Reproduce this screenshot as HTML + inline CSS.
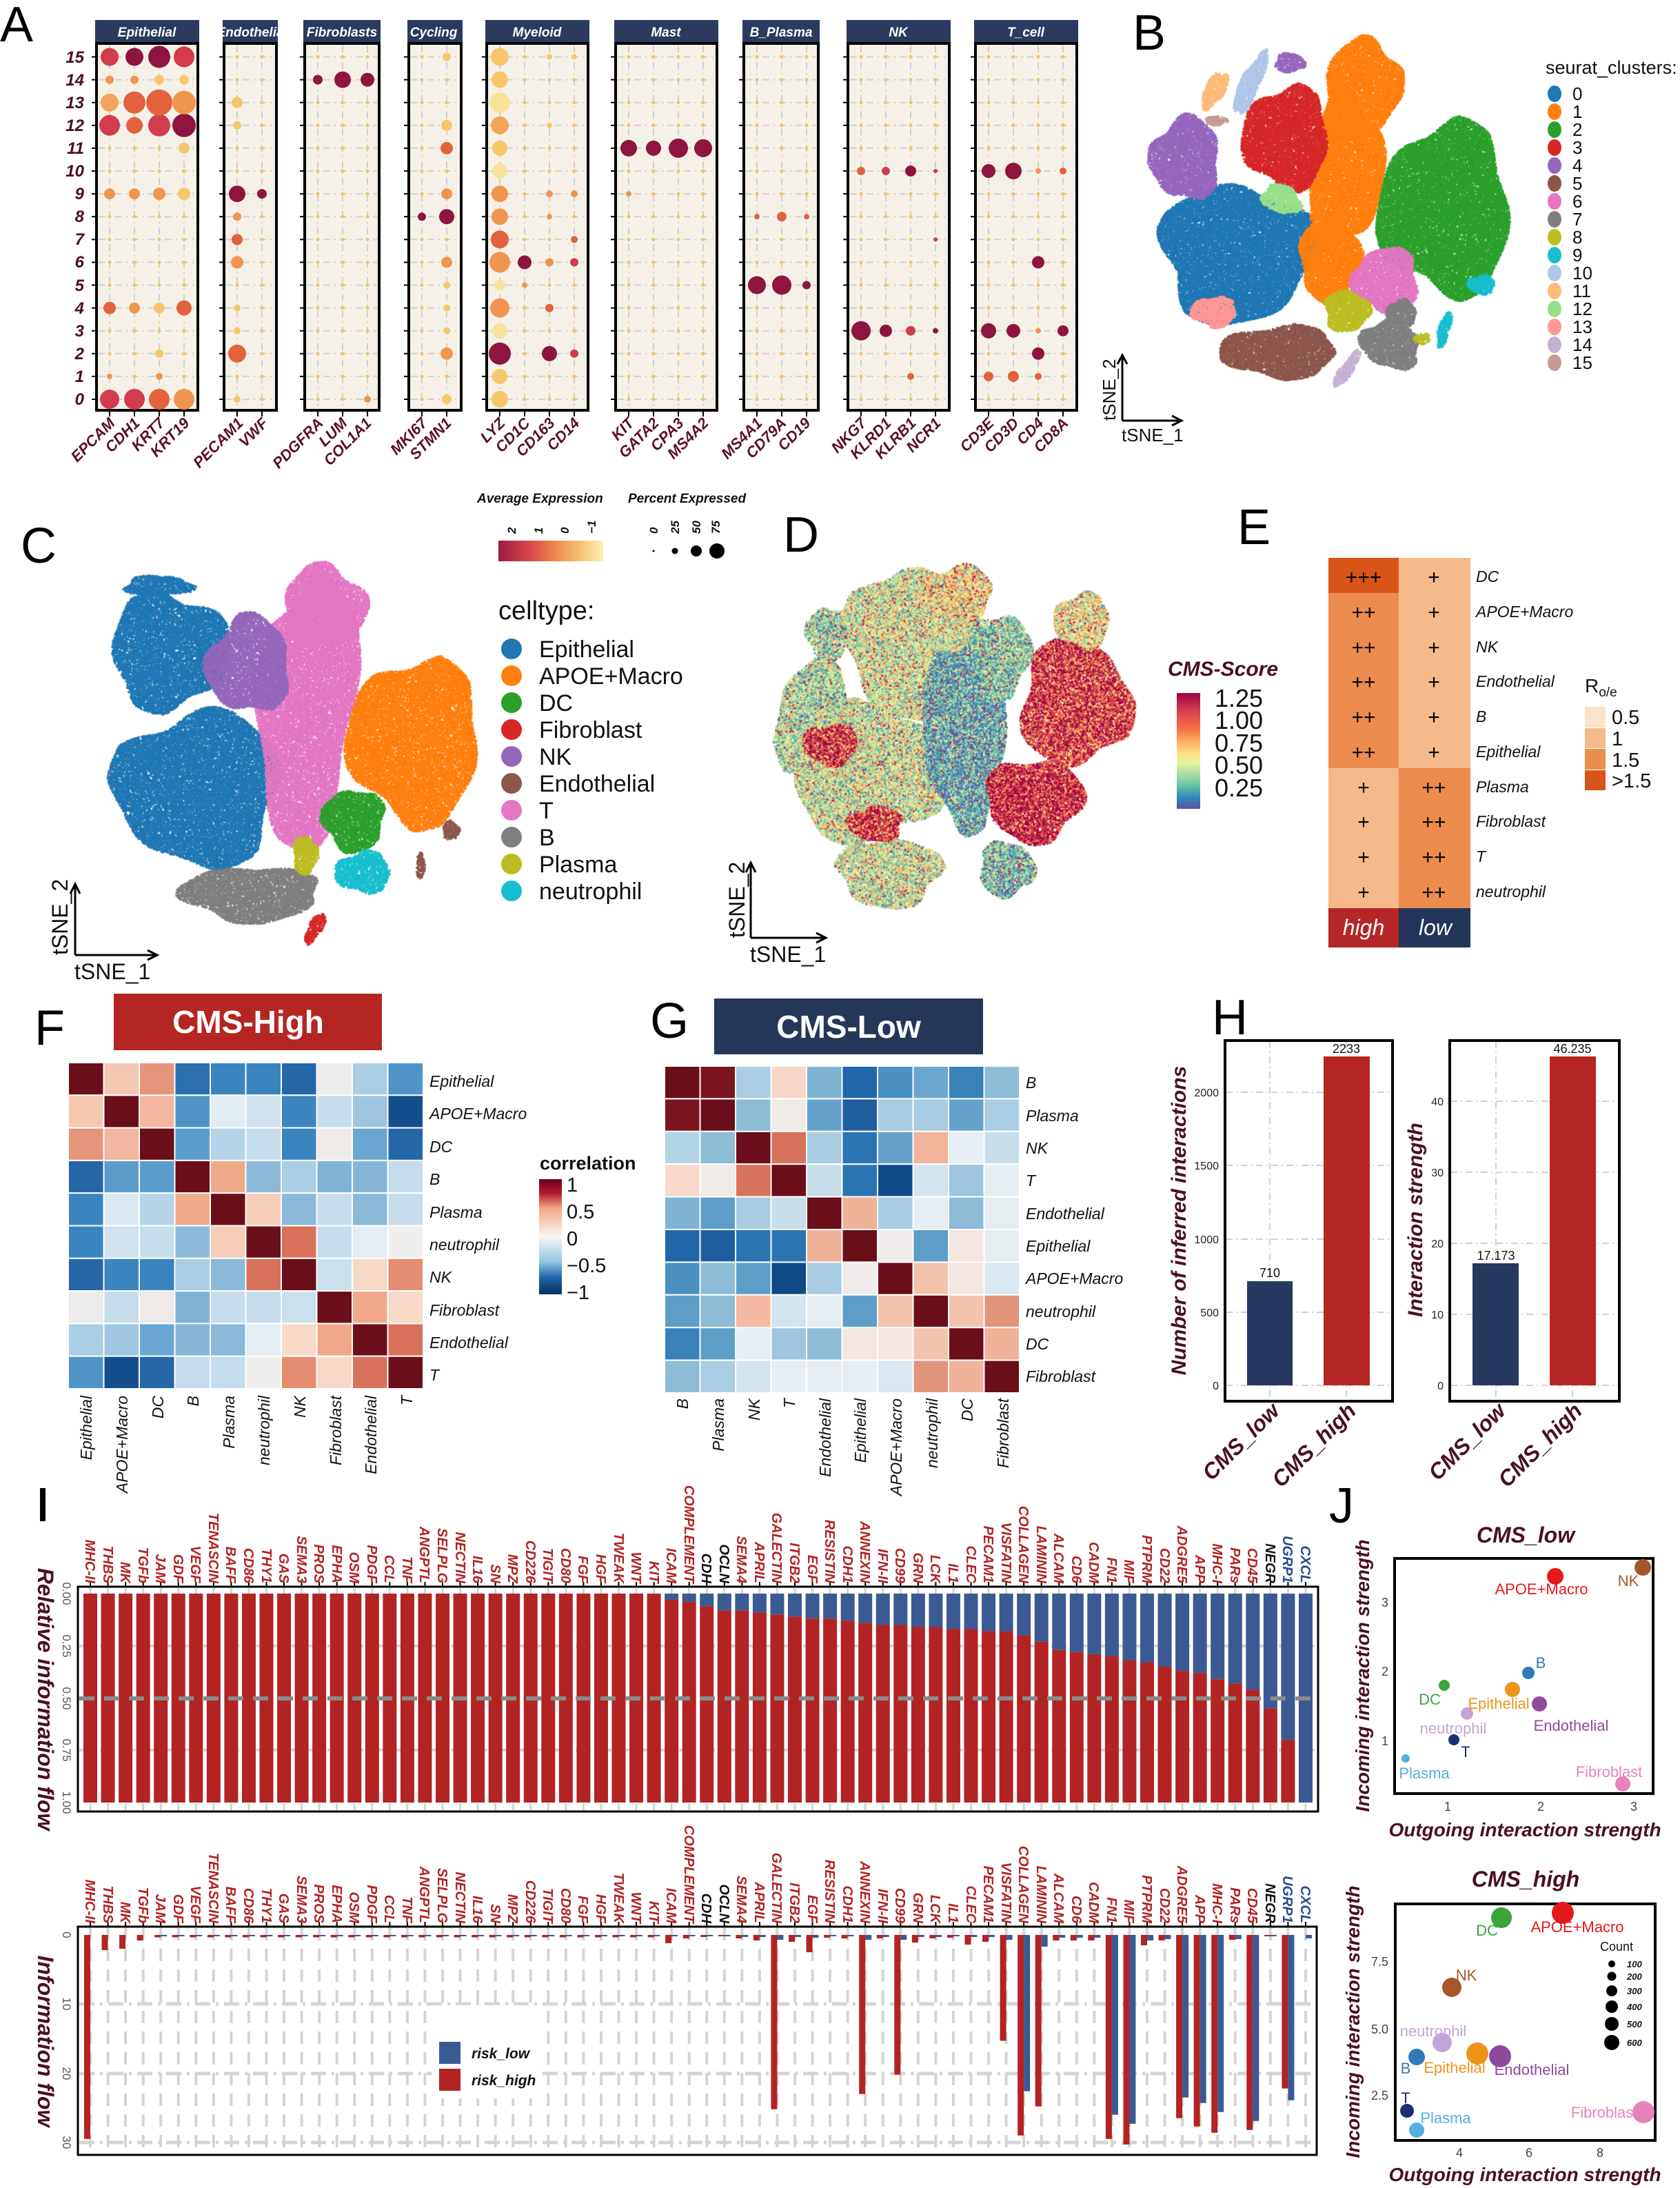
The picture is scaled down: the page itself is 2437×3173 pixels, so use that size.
<!DOCTYPE html>
<html><head><meta charset="utf-8">
<style>
html,body{margin:0;padding:0;background:#fff}
body{width:2437px;height:3173px;position:relative;overflow:hidden}
#cv{position:absolute;left:0;top:0}
#sv{position:absolute;left:0;top:0}
text{font-family:"Liberation Sans",sans-serif}
.bi{font-weight:bold;font-style:italic}
.it{font-style:italic}
.mar{fill:#4a1020}
.rl{font:bold italic 24px "Liberation Sans",sans-serif;fill:#4a1020;text-anchor:end}
.gl{font:bold italic 22px "Liberation Sans",sans-serif;fill:#5a1025;text-anchor:end}
.hd{font:bold italic 19px "Liberation Sans",sans-serif;fill:#fff;text-anchor:middle}
.lt{font:bold italic 20px "Liberation Sans",sans-serif;fill:#b22323;text-anchor:end}
.lk{fill:#111}
.lb{fill:#2b4a8a}
.hl{font:italic 23px "Liberation Sans",sans-serif;fill:#111}
.hb{font:italic 23px "Liberation Sans",sans-serif;fill:#111;text-anchor:end}
.tk{font:16px "Liberation Sans",sans-serif;fill:#222;text-anchor:end}
.jl{font:22px "Liberation Sans",sans-serif;text-anchor:middle}
.big{font:72px "Liberation Sans",sans-serif;fill:#000}
</style></head><body>
<canvas id="cv" width="2437" height="3173"></canvas>
<svg id="sv" xmlns="http://www.w3.org/2000/svg" width="2437" height="3173" viewBox="0 0 2437 3173">
<!-- Panel letters -->
<text class="big" x="0" y="60">A</text>
<text class="big" x="1643" y="72">B</text>
<text class="big" x="30" y="816">C</text>
<text class="big" x="1136" y="800">D</text>
<text class="big" x="1795" y="789">E</text>
<text class="big" x="50" y="1515">F</text>
<text class="big" x="943" y="1505">G</text>
<text class="big" x="1758" y="1500">H</text>
<rect x="58" y="2158" width="8" height="48" fill="#000"/>
<text class="big" x="1928" y="2208">J</text>

<!-- ============ Panel A ============ -->
<g id="gA"></g>
<g>
<text class="hd" x="213" y="53">Epithelial</text>
<text class="hd" x="363" y="53">Endothelia</text>
<text class="hd" x="496" y="53">Fibroblasts</text>
<text class="hd" x="629" y="53">Cycling</text>
<text class="hd" x="779" y="53">Myeloid</text>
<text class="hd" x="966" y="53">Mast</text>
<text class="hd" x="1133" y="53">B_Plasma</text>
<text class="hd" x="1303" y="53">NK</text>
<text class="hd" x="1488" y="53">T_cell</text>
</g>
<g>
<text class="rl" x="122" y="587">0</text>
<text class="rl" x="122" y="554">1</text>
<text class="rl" x="122" y="521">2</text>
<text class="rl" x="122" y="488">3</text>
<text class="rl" x="122" y="455">4</text>
<text class="rl" x="122" y="422">5</text>
<text class="rl" x="122" y="388">6</text>
<text class="rl" x="122" y="355">7</text>
<text class="rl" x="122" y="322">8</text>
<text class="rl" x="122" y="289">9</text>
<text class="rl" x="122" y="256">10</text>
<text class="rl" x="122" y="223">11</text>
<text class="rl" x="122" y="190">12</text>
<text class="rl" x="122" y="157">13</text>
<text class="rl" x="122" y="124">14</text>
<text class="rl" x="122" y="91">15</text>
</g>
<g>
<text class="gl" transform="translate(168,615) rotate(-45)">EPCAM</text>
<text class="gl" transform="translate(204,615) rotate(-45)">CDH1</text>
<text class="gl" transform="translate(240,615) rotate(-45)">KRT7</text>
<text class="gl" transform="translate(276,615) rotate(-45)">KRT19</text>
<text class="gl" transform="translate(354,615) rotate(-45)">PECAM1</text>
<text class="gl" transform="translate(390,615) rotate(-45)">VWF</text>
<text class="gl" transform="translate(470,615) rotate(-45)">PDGFRA</text>
<text class="gl" transform="translate(505,615) rotate(-45)">LUM</text>
<text class="gl" transform="translate(540,615) rotate(-45)">COL1A1</text>
<text class="gl" transform="translate(621,615) rotate(-45)">MKI67</text>
<text class="gl" transform="translate(656,615) rotate(-45)">STMN1</text>
<text class="gl" transform="translate(734,615) rotate(-45)">LYZ</text>
<text class="gl" transform="translate(770,615) rotate(-45)">CD1C</text>
<text class="gl" transform="translate(806,615) rotate(-45)">CD163</text>
<text class="gl" transform="translate(842,615) rotate(-45)">CD14</text>
<text class="gl" transform="translate(921,615) rotate(-45)">KIT</text>
<text class="gl" transform="translate(957,615) rotate(-45)">GATA2</text>
<text class="gl" transform="translate(993,615) rotate(-45)">CPA3</text>
<text class="gl" transform="translate(1029,615) rotate(-45)">MS4A2</text>
<text class="gl" transform="translate(1107,615) rotate(-45)">MS4A1</text>
<text class="gl" transform="translate(1142,615) rotate(-45)">CD79A</text>
<text class="gl" transform="translate(1177,615) rotate(-45)">CD19</text>
<text class="gl" transform="translate(1258,615) rotate(-45)">NKG7</text>
<text class="gl" transform="translate(1294,615) rotate(-45)">KLRD1</text>
<text class="gl" transform="translate(1330,615) rotate(-45)">KLRB1</text>
<text class="gl" transform="translate(1366,615) rotate(-45)">NCR1</text>
<text class="gl" transform="translate(1443,615) rotate(-45)">CD3E</text>
<text class="gl" transform="translate(1479,615) rotate(-45)">CD3D</text>
<text class="gl" transform="translate(1515,615) rotate(-45)">CD4</text>
<text class="gl" transform="translate(1551,615) rotate(-45)">CD8A</text>
</g>
<!-- A legend -->
<text class="bi" x="692" y="729" font-size="19" fill="#111">Average Expression</text>
<text class="bi" x="911" y="729" font-size="19" fill="#111">Percent Expressed</text>
<defs>
<linearGradient id="gAE" x1="0" x2="1" y1="0" y2="0">
<stop offset="0" stop-color="#9b1b45"/><stop offset="0.3" stop-color="#d9484a"/><stop offset="0.55" stop-color="#ee8a4c"/><stop offset="0.8" stop-color="#f7c779"/><stop offset="1" stop-color="#faf1b4"/></linearGradient>
<linearGradient id="gCMS" x1="0" x2="0" y1="0" y2="1">
<stop offset="0" stop-color="#9e0142"/><stop offset="0.15" stop-color="#d53e4f"/><stop offset="0.3" stop-color="#f46d43"/><stop offset="0.42" stop-color="#fdae61"/><stop offset="0.52" stop-color="#fee08b"/><stop offset="0.6" stop-color="#e6f598"/><stop offset="0.7" stop-color="#abdda4"/><stop offset="0.8" stop-color="#66c2a5"/><stop offset="0.9" stop-color="#3288bd"/><stop offset="1" stop-color="#5e4fa2"/></linearGradient>
<linearGradient id="gCor" x1="0" x2="0" y1="0" y2="1">
<stop offset="0" stop-color="#67001f"/><stop offset="0.12" stop-color="#b2182b"/><stop offset="0.25" stop-color="#f4a582"/><stop offset="0.5" stop-color="#f7f7f7"/><stop offset="0.72" stop-color="#92c5de"/><stop offset="0.85" stop-color="#2166ac"/><stop offset="1" stop-color="#053061"/></linearGradient>
</defs>
<rect x="723" y="784" width="152" height="30" fill="url(#gAE)"/>
<g class="bi" font-size="17" fill="#111">
<text transform="translate(748,774) rotate(-90)">2</text>
<text transform="translate(787,774) rotate(-90)">1</text>
<text transform="translate(825,774) rotate(-90)">0</text>
<text transform="translate(864,774) rotate(-90)">−1</text>
<text transform="translate(954,774) rotate(-90)">0</text>
<text transform="translate(985,774) rotate(-90)">25</text>
<text transform="translate(1016,774) rotate(-90)">50</text>
<text transform="translate(1044,774) rotate(-90)">75</text>
</g>
<circle cx="948" cy="799" r="1.5" fill="#000"/>
<circle cx="979" cy="799" r="4.5" fill="#000"/>
<circle cx="1010" cy="799" r="8" fill="#000"/>
<circle cx="1040" cy="799" r="11" fill="#000"/>

<!-- ============ Panel B legend/axes ============ -->
<text x="2242" y="107" font-size="27" fill="#111">seurat_clusters:</text>
<g id="gBleg"></g>
<g font-size="26" fill="#111">
<text x="2281" y="145">0</text><text x="2281" y="171">1</text><text x="2281" y="197">2</text><text x="2281" y="223">3</text>
<text x="2281" y="249">4</text><text x="2281" y="275">5</text><text x="2281" y="301">6</text><text x="2281" y="327">7</text>
<text x="2281" y="353">8</text><text x="2281" y="379">9</text><text x="2281" y="405">10</text><text x="2281" y="431">11</text>
<text x="2281" y="457">12</text><text x="2281" y="483">13</text><text x="2281" y="509">14</text><text x="2281" y="535">15</text>
</g>
<g stroke="#000" stroke-width="3" fill="none">
<path d="M1628 610 V517 M1621 528 L1628 515 L1635 528"/>
<path d="M1628 610 H1712 M1700 603 L1714 610 L1700 617"/>
</g>
<text transform="translate(1618,610) rotate(-90)" font-size="26" fill="#111">tSNE_2</text>
<text x="1627" y="640" font-size="26" fill="#111">tSNE_1</text>

<!-- ============ Panel C legend/axes ============ -->
<text x="723" y="898" font-size="38" fill="#111">celltype:</text>
<g>
<circle cx="742" cy="941" r="15" fill="#1f77b4"/><circle cx="742" cy="980" r="15" fill="#ff7f0e"/>
<circle cx="742" cy="1019" r="15" fill="#2ca02c"/><circle cx="742" cy="1058" r="15" fill="#d62728"/>
<circle cx="742" cy="1097" r="15" fill="#9467bd"/><circle cx="742" cy="1136" r="15" fill="#8c564b"/>
<circle cx="742" cy="1175" r="15" fill="#e377c2"/><circle cx="742" cy="1214" r="15" fill="#7f7f7f"/>
<circle cx="742" cy="1253" r="15" fill="#bcbd22"/><circle cx="742" cy="1292" r="15" fill="#17becf"/>
</g>
<g font-size="34" fill="#111">
<text x="782" y="953">Epithelial</text><text x="782" y="992">APOE+Macro</text><text x="782" y="1031">DC</text>
<text x="782" y="1070">Fibroblast</text><text x="782" y="1109">NK</text><text x="782" y="1148">Endothelial</text>
<text x="782" y="1187">T</text><text x="782" y="1226">B</text><text x="782" y="1265">Plasma</text><text x="782" y="1304">neutrophil</text>
</g>
<g stroke="#000" stroke-width="3" fill="none">
<path d="M109 1385 V1284 M102 1296 L109 1282 L116 1296"/>
<path d="M109 1385 H226 M214 1378 L228 1385 L214 1392"/>
</g>
<text transform="translate(98,1385) rotate(-90)" font-size="32" fill="#111">tSNE_2</text>
<text x="108" y="1420" font-size="32" fill="#111">tSNE_1</text>

<!-- ============ Panel D legend/axes ============ -->
<text class="bi mar" x="1694" y="980" font-size="30">CMS-Score</text>
<rect x="1707" y="1005" width="34" height="168" fill="url(#gCMS)"/>
<g font-size="36" fill="#111">
<text x="1762" y="1025">1.25</text><text x="1762" y="1057">1.00</text><text x="1762" y="1090">0.75</text>
<text x="1762" y="1122">0.50</text><text x="1762" y="1155">0.25</text>
</g>
<g stroke="#000" stroke-width="3" fill="none">
<path d="M1089 1360 V1253 M1082 1265 L1089 1251 L1096 1265"/>
<path d="M1089 1360 H1196 M1184 1353 L1198 1360 L1184 1367"/>
</g>
<text transform="translate(1080,1360) rotate(-90)" font-size="32" fill="#111">tSNE_2</text>
<text x="1088" y="1395" font-size="32" fill="#111">tSNE_1</text>

<!-- ============ Panel E ============ -->
<g id="gE"></g>
<g font-size="30" fill="#000" text-anchor="middle">
<text x="1978" y="847">+++</text><text x="2080" y="847">+</text>
<text x="1978" y="898">++</text><text x="2080" y="898">+</text>
<text x="1978" y="949">++</text><text x="2080" y="949">+</text>
<text x="1978" y="999">++</text><text x="2080" y="999">+</text>
<text x="1978" y="1050">++</text><text x="2080" y="1050">+</text>
<text x="1978" y="1101">++</text><text x="2080" y="1101">+</text>
<text x="1978" y="1152">+</text><text x="2080" y="1152">++</text>
<text x="1978" y="1202">+</text><text x="2080" y="1202">++</text>
<text x="1978" y="1253">+</text><text x="2080" y="1253">++</text>
<text x="1978" y="1304">+</text><text x="2080" y="1304">++</text>
</g>
<g class="hl">
<text x="2141" y="844">DC</text><text x="2141" y="895">APOE+Macro</text><text x="2141" y="946">NK</text>
<text x="2141" y="996">Endothelial</text><text x="2141" y="1047">B</text><text x="2141" y="1098">Epithelial</text>
<text x="2141" y="1149">Plasma</text><text x="2141" y="1199">Fibroblast</text><text x="2141" y="1250">T</text><text x="2141" y="1301">neutrophil</text>
</g>
<text class="it" x="1978" y="1356" font-size="32" fill="#fff" text-anchor="middle">high</text>
<text class="it" x="2082" y="1356" font-size="32" fill="#fff" text-anchor="middle">low</text>
<text x="2299" y="1004" font-size="28" fill="#111">R<tspan font-size="19" dy="6">o/e</tspan></text>
<rect x="2299" y="1025" width="30" height="30" fill="#fce2cb"/>
<rect x="2299" y="1056" width="30" height="29" fill="#f5b98a"/>
<rect x="2299" y="1086" width="30" height="30" fill="#ec8c4f"/>
<rect x="2299" y="1117" width="30" height="29" fill="#d85418"/>
<g font-size="29" fill="#111">
<text x="2338" y="1050">0.5</text><text x="2338" y="1081">1</text><text x="2338" y="1112">1.5</text><text x="2338" y="1142">&gt;1.5</text>
</g>

<!-- ============ Panel F ============ -->
<rect x="165" y="1441" width="389" height="82" fill="#b52622"/>
<text x="360" y="1498" font-size="46" font-weight="bold" fill="#fff" text-anchor="middle">CMS-High</text>
<g id="gF"></g>
<g class="hl">
<text x="623" y="1576">Epithelial</text><text x="623" y="1623">APOE+Macro</text><text x="623" y="1671">DC</text>
<text x="623" y="1718">B</text><text x="623" y="1766">Plasma</text><text x="623" y="1813">neutrophil</text>
<text x="623" y="1860">NK</text><text x="623" y="1908">Fibroblast</text><text x="623" y="1955">Endothelial</text><text x="623" y="2002">T</text>
</g>
<g class="hb">
<text transform="translate(133,2024) rotate(-90)">Epithelial</text>
<text transform="translate(185,2024) rotate(-90)">APOE+Macro</text>
<text transform="translate(237,2024) rotate(-90)">DC</text>
<text transform="translate(288,2024) rotate(-90)">B</text>
<text transform="translate(340,2024) rotate(-90)">Plasma</text>
<text transform="translate(391,2024) rotate(-90)">neutrophil</text>
<text transform="translate(443,2024) rotate(-90)">NK</text>
<text transform="translate(495,2024) rotate(-90)">Fibroblast</text>
<text transform="translate(546,2024) rotate(-90)">Endothelial</text>
<text transform="translate(598,2024) rotate(-90)">T</text>
</g>
<text x="783" y="1696" font-size="27" font-weight="bold" fill="#111">correlation</text>
<rect x="782" y="1710" width="33" height="167" fill="url(#gCor)"/>
<g font-size="29" fill="#111">
<text x="822" y="1728">1</text><text x="822" y="1767">0.5</text><text x="822" y="1806">0</text><text x="822" y="1845">−0.5</text><text x="822" y="1884">−1</text>
</g>

<!-- ============ Panel G ============ -->
<rect x="1036" y="1448" width="390" height="81" fill="#263659"/>
<text x="1231" y="1505" font-size="46" font-weight="bold" fill="#fff" text-anchor="middle">CMS-Low</text>
<g id="gG"></g>
<g class="hl">
<text x="1488" y="1578">B</text><text x="1488" y="1626">Plasma</text><text x="1488" y="1673">NK</text>
<text x="1488" y="1720">T</text><text x="1488" y="1768">Endothelial</text><text x="1488" y="1815">Epithelial</text>
<text x="1488" y="1862">APOE+Macro</text><text x="1488" y="1910">neutrophil</text><text x="1488" y="1957">DC</text><text x="1488" y="2004">Fibroblast</text>
</g>
<g class="hb">
<text transform="translate(998,2028) rotate(-90)">B</text>
<text transform="translate(1050,2028) rotate(-90)">Plasma</text>
<text transform="translate(1102,2028) rotate(-90)">NK</text>
<text transform="translate(1153,2028) rotate(-90)">T</text>
<text transform="translate(1205,2028) rotate(-90)">Endothelial</text>
<text transform="translate(1256,2028) rotate(-90)">Epithelial</text>
<text transform="translate(1308,2028) rotate(-90)">APOE+Macro</text>
<text transform="translate(1360,2028) rotate(-90)">neutrophil</text>
<text transform="translate(1411,2028) rotate(-90)">DC</text>
<text transform="translate(1463,2028) rotate(-90)">Fibroblast</text>
</g>

<!-- ============ Panel H ============ -->
<g stroke="#d0d0d0" stroke-width="2" stroke-dasharray="10 5 2 5" fill="none">
<path d="M1778 2009 H2018 M1778 1903 H2018 M1778 1797 H2018 M1778 1690 H2018 M1778 1584 H2018 M1842 1510 V2030 M1953 1510 V2030"/>
<path d="M2104 2009 H2347 M2104 1906 H2347 M2104 1803 H2347 M2104 1700 H2347 M2104 1597 H2347 M2170 1510 V2030 M2281 1510 V2030"/>
</g>
<rect x="1809" y="1858" width="66" height="151" fill="#263860"/>
<rect x="1920" y="1532" width="67" height="477" fill="#b52622"/>
<rect x="2136" y="1832" width="67" height="177" fill="#263860"/>
<rect x="2248" y="1532" width="67" height="477" fill="#b52622"/>
<rect x="1777" y="1509" width="243" height="523" fill="none" stroke="#000" stroke-width="4"/>
<rect x="2103" y="1509" width="246" height="523" fill="none" stroke="#000" stroke-width="4"/>
<g font-size="18" fill="#111" text-anchor="middle">
<text x="1842" y="1852">710</text><text x="1953" y="1527">2233</text>
<text x="2170" y="1827">17.173</text><text x="2281" y="1527">46.235</text>
</g>
<g class="tk">
<text x="1768" y="2015">0</text><text x="1768" y="1909">500</text><text x="1768" y="1803">1000</text><text x="1768" y="1696">1500</text><text x="1768" y="1590">2000</text>
<text x="2094" y="2015">0</text><text x="2094" y="1912">10</text><text x="2094" y="1809">20</text><text x="2094" y="1706">30</text><text x="2094" y="1603">40</text>
</g>
<text class="bi mar" transform="translate(1720,1770) rotate(-90)" font-size="30" text-anchor="middle">Number of inferred interactions</text>
<text class="bi mar" transform="translate(2063,1769) rotate(-90)" font-size="30" text-anchor="middle">Interaction strength</text>
<g class="bi mar" font-size="32" text-anchor="end">
<text transform="translate(1858,2048) rotate(-45)">CMS_low</text>
<text transform="translate(1969,2048) rotate(-45)">CMS_high</text>
<text transform="translate(2186,2048) rotate(-45)">CMS_low</text>
<text transform="translate(2297,2048) rotate(-45)">CMS_high</text>
</g>

<!-- ============ Panel I ============ -->
<g id="gI"></g>
<rect x="113" y="2301" width="1799" height="326" fill="none" stroke="#000" stroke-width="3"/>
<rect x="113" y="2794" width="1797" height="331" fill="none" stroke="#000" stroke-width="3"/>
<g font-size="17" fill="#555" text-anchor="middle">
<text transform="translate(91,2311) rotate(90)">0.00</text>
<text transform="translate(91,2387) rotate(90)">0.25</text>
<text transform="translate(91,2463) rotate(90)">0.50</text>
<text transform="translate(91,2538) rotate(90)">0.75</text>
<text transform="translate(91,2614) rotate(90)">1.00</text>
<text transform="translate(91,2806) rotate(90)">0</text>
<text transform="translate(91,2906) rotate(90)">10</text>
<text transform="translate(91,3007) rotate(90)">20</text>
<text transform="translate(91,3107) rotate(90)">30</text>
</g>
<text class="bi mar" transform="translate(55,2464) rotate(90)" font-size="32" text-anchor="middle">Relative information flow</text>
<text class="bi mar" transform="translate(55,2960) rotate(90)" font-size="32" text-anchor="middle">Information flow</text>
<rect x="626" y="2908" width="160" height="135" fill="#fff"/>
<rect x="637" y="2961" width="31" height="32" fill="#3b5a94"/>
<rect x="637" y="3000" width="31" height="32" fill="#b22323"/>
<text class="bi" x="684" y="2985" font-size="21" fill="#111">risk_low</text>
<text class="bi" x="684" y="3024" font-size="21" fill="#111">risk_high</text>
<g id="labTop">
<text class="lt" transform="translate(124,2296) rotate(90)">MHC-II</text>
<text class="lt" transform="translate(150,2296) rotate(90)">THBS</text>
<text class="lt" transform="translate(175,2296) rotate(90)">MK</text>
<text class="lt" transform="translate(201,2296) rotate(90)">TGFb</text>
<text class="lt" transform="translate(226,2296) rotate(90)">JAM</text>
<text class="lt" transform="translate(252,2296) rotate(90)">GDF</text>
<text class="lt" transform="translate(277,2296) rotate(90)">VEGF</text>
<text class="lt" transform="translate(303,2296) rotate(90)">TENASCIN</text>
<text class="lt" transform="translate(328,2296) rotate(90)">BAFF</text>
<text class="lt" transform="translate(354,2296) rotate(90)">CD86</text>
<text class="lt" transform="translate(380,2296) rotate(90)">THY1</text>
<text class="lt" transform="translate(405,2296) rotate(90)">GAS</text>
<text class="lt" transform="translate(431,2296) rotate(90)">SEMA3</text>
<text class="lt" transform="translate(456,2296) rotate(90)">PROS</text>
<text class="lt" transform="translate(482,2296) rotate(90)">EPHA</text>
<text class="lt" transform="translate(507,2296) rotate(90)">OSM</text>
<text class="lt" transform="translate(533,2296) rotate(90)">PDGF</text>
<text class="lt" transform="translate(558,2296) rotate(90)">CCL</text>
<text class="lt" transform="translate(584,2296) rotate(90)">TNF</text>
<text class="lt" transform="translate(609,2296) rotate(90)">ANGPTL</text>
<text class="lt" transform="translate(635,2296) rotate(90)">SELPLG</text>
<text class="lt" transform="translate(661,2296) rotate(90)">NECTIN</text>
<text class="lt" transform="translate(686,2296) rotate(90)">IL16</text>
<text class="lt" transform="translate(712,2296) rotate(90)">SN</text>
<text class="lt" transform="translate(737,2296) rotate(90)">MPZ</text>
<text class="lt" transform="translate(763,2296) rotate(90)">CD226</text>
<text class="lt" transform="translate(788,2296) rotate(90)">TIGIT</text>
<text class="lt" transform="translate(814,2296) rotate(90)">CD80</text>
<text class="lt" transform="translate(839,2296) rotate(90)">FGF</text>
<text class="lt" transform="translate(865,2296) rotate(90)">HGF</text>
<text class="lt" transform="translate(891,2296) rotate(90)">TWEAK</text>
<text class="lt" transform="translate(916,2296) rotate(90)">WNT</text>
<text class="lt" transform="translate(942,2296) rotate(90)">KIT</text>
<text class="lt" transform="translate(967,2296) rotate(90)">ICAM</text>
<text class="lt" transform="translate(993,2296) rotate(90)">COMPLEMENT</text>
<text class="lt lk" transform="translate(1018,2296) rotate(90)">CDH</text>
<text class="lt lk" transform="translate(1044,2296) rotate(90)">OCLN</text>
<text class="lt" transform="translate(1069,2296) rotate(90)">SEMA4</text>
<text class="lt" transform="translate(1095,2296) rotate(90)">APRIL</text>
<text class="lt" transform="translate(1120,2296) rotate(90)">GALECTIN</text>
<text class="lt" transform="translate(1146,2296) rotate(90)">ITGB2</text>
<text class="lt" transform="translate(1172,2296) rotate(90)">EGF</text>
<text class="lt" transform="translate(1197,2296) rotate(90)">RESISTIN</text>
<text class="lt" transform="translate(1223,2296) rotate(90)">CDH1</text>
<text class="lt" transform="translate(1248,2296) rotate(90)">ANNEXIN</text>
<text class="lt" transform="translate(1274,2296) rotate(90)">IFN-II</text>
<text class="lt" transform="translate(1299,2296) rotate(90)">CD99</text>
<text class="lt" transform="translate(1325,2296) rotate(90)">GRN</text>
<text class="lt" transform="translate(1350,2296) rotate(90)">LCK</text>
<text class="lt" transform="translate(1376,2296) rotate(90)">IL1</text>
<text class="lt" transform="translate(1402,2296) rotate(90)">CLEC</text>
<text class="lt" transform="translate(1427,2296) rotate(90)">PECAM1</text>
<text class="lt" transform="translate(1453,2296) rotate(90)">VISFATIN</text>
<text class="lt" transform="translate(1478,2296) rotate(90)">COLLAGEN</text>
<text class="lt" transform="translate(1504,2296) rotate(90)">LAMININ</text>
<text class="lt" transform="translate(1529,2296) rotate(90)">ALCAM</text>
<text class="lt" transform="translate(1555,2296) rotate(90)">CD6</text>
<text class="lt" transform="translate(1580,2296) rotate(90)">CADM</text>
<text class="lt" transform="translate(1606,2296) rotate(90)">FN1</text>
<text class="lt" transform="translate(1631,2296) rotate(90)">MIF</text>
<text class="lt" transform="translate(1657,2296) rotate(90)">PTPRM</text>
<text class="lt" transform="translate(1683,2296) rotate(90)">CD22</text>
<text class="lt" transform="translate(1708,2296) rotate(90)">ADGRE5</text>
<text class="lt" transform="translate(1734,2296) rotate(90)">APP</text>
<text class="lt" transform="translate(1759,2296) rotate(90)">MHC-I</text>
<text class="lt" transform="translate(1785,2296) rotate(90)">PARs</text>
<text class="lt" transform="translate(1810,2296) rotate(90)">CD45</text>
<text class="lt lk" transform="translate(1836,2296) rotate(90)">NEGR</text>
<text class="lt lb" transform="translate(1861,2296) rotate(90)">UGRP1</text>
<text class="lt lb" transform="translate(1887,2296) rotate(90)">CXCL</text>
</g>
<g id="labBot">
<text class="lt" transform="translate(124,2789) rotate(90)">MHC-II</text>
<text class="lt" transform="translate(150,2789) rotate(90)">THBS</text>
<text class="lt" transform="translate(175,2789) rotate(90)">MK</text>
<text class="lt" transform="translate(201,2789) rotate(90)">TGFb</text>
<text class="lt" transform="translate(226,2789) rotate(90)">JAM</text>
<text class="lt" transform="translate(252,2789) rotate(90)">GDF</text>
<text class="lt" transform="translate(277,2789) rotate(90)">VEGF</text>
<text class="lt" transform="translate(303,2789) rotate(90)">TENASCIN</text>
<text class="lt" transform="translate(328,2789) rotate(90)">BAFF</text>
<text class="lt" transform="translate(354,2789) rotate(90)">CD86</text>
<text class="lt" transform="translate(380,2789) rotate(90)">THY1</text>
<text class="lt" transform="translate(405,2789) rotate(90)">GAS</text>
<text class="lt" transform="translate(431,2789) rotate(90)">SEMA3</text>
<text class="lt" transform="translate(456,2789) rotate(90)">PROS</text>
<text class="lt" transform="translate(482,2789) rotate(90)">EPHA</text>
<text class="lt" transform="translate(507,2789) rotate(90)">OSM</text>
<text class="lt" transform="translate(533,2789) rotate(90)">PDGF</text>
<text class="lt" transform="translate(558,2789) rotate(90)">CCL</text>
<text class="lt" transform="translate(584,2789) rotate(90)">TNF</text>
<text class="lt" transform="translate(609,2789) rotate(90)">ANGPTL</text>
<text class="lt" transform="translate(635,2789) rotate(90)">SELPLG</text>
<text class="lt" transform="translate(661,2789) rotate(90)">NECTIN</text>
<text class="lt" transform="translate(686,2789) rotate(90)">IL16</text>
<text class="lt" transform="translate(712,2789) rotate(90)">SN</text>
<text class="lt" transform="translate(737,2789) rotate(90)">MPZ</text>
<text class="lt" transform="translate(763,2789) rotate(90)">CD226</text>
<text class="lt" transform="translate(788,2789) rotate(90)">TIGIT</text>
<text class="lt" transform="translate(814,2789) rotate(90)">CD80</text>
<text class="lt" transform="translate(839,2789) rotate(90)">FGF</text>
<text class="lt" transform="translate(865,2789) rotate(90)">HGF</text>
<text class="lt" transform="translate(891,2789) rotate(90)">TWEAK</text>
<text class="lt" transform="translate(916,2789) rotate(90)">WNT</text>
<text class="lt" transform="translate(942,2789) rotate(90)">KIT</text>
<text class="lt" transform="translate(967,2789) rotate(90)">ICAM</text>
<text class="lt" transform="translate(993,2789) rotate(90)">COMPLEMENT</text>
<text class="lt lk" transform="translate(1018,2789) rotate(90)">CDH</text>
<text class="lt lk" transform="translate(1044,2789) rotate(90)">OCLN</text>
<text class="lt" transform="translate(1069,2789) rotate(90)">SEMA4</text>
<text class="lt" transform="translate(1095,2789) rotate(90)">APRIL</text>
<text class="lt" transform="translate(1120,2789) rotate(90)">GALECTIN</text>
<text class="lt" transform="translate(1146,2789) rotate(90)">ITGB2</text>
<text class="lt" transform="translate(1172,2789) rotate(90)">EGF</text>
<text class="lt" transform="translate(1197,2789) rotate(90)">RESISTIN</text>
<text class="lt" transform="translate(1223,2789) rotate(90)">CDH1</text>
<text class="lt" transform="translate(1248,2789) rotate(90)">ANNEXIN</text>
<text class="lt" transform="translate(1274,2789) rotate(90)">IFN-II</text>
<text class="lt" transform="translate(1299,2789) rotate(90)">CD99</text>
<text class="lt" transform="translate(1325,2789) rotate(90)">GRN</text>
<text class="lt" transform="translate(1350,2789) rotate(90)">LCK</text>
<text class="lt" transform="translate(1376,2789) rotate(90)">IL1</text>
<text class="lt" transform="translate(1402,2789) rotate(90)">CLEC</text>
<text class="lt" transform="translate(1427,2789) rotate(90)">PECAM1</text>
<text class="lt" transform="translate(1453,2789) rotate(90)">VISFATIN</text>
<text class="lt" transform="translate(1478,2789) rotate(90)">COLLAGEN</text>
<text class="lt" transform="translate(1504,2789) rotate(90)">LAMININ</text>
<text class="lt" transform="translate(1529,2789) rotate(90)">ALCAM</text>
<text class="lt" transform="translate(1555,2789) rotate(90)">CD6</text>
<text class="lt" transform="translate(1580,2789) rotate(90)">CADM</text>
<text class="lt" transform="translate(1606,2789) rotate(90)">FN1</text>
<text class="lt" transform="translate(1631,2789) rotate(90)">MIF</text>
<text class="lt" transform="translate(1657,2789) rotate(90)">PTPRM</text>
<text class="lt" transform="translate(1683,2789) rotate(90)">CD22</text>
<text class="lt" transform="translate(1708,2789) rotate(90)">ADGRE5</text>
<text class="lt" transform="translate(1734,2789) rotate(90)">APP</text>
<text class="lt" transform="translate(1759,2789) rotate(90)">MHC-I</text>
<text class="lt" transform="translate(1785,2789) rotate(90)">PARs</text>
<text class="lt" transform="translate(1810,2789) rotate(90)">CD45</text>
<text class="lt lk" transform="translate(1836,2789) rotate(90)">NEGR</text>
<text class="lt lb" transform="translate(1861,2789) rotate(90)">UGRP1</text>
<text class="lt lb" transform="translate(1887,2789) rotate(90)">CXCL</text>
</g>

<!-- ============ Panel J ============ -->
<text class="bi mar" x="2213" y="2237" font-size="32" text-anchor="middle">CMS_low</text>
<rect x="2023" y="2260" width="375" height="341" fill="none" stroke="#000" stroke-width="4"/>
<g font-size="18" fill="#444" text-anchor="middle">
<text x="2100" y="2626">1</text><text x="2235" y="2626">2</text><text x="2370" y="2626">3</text>
</g>
<g font-size="18" fill="#444" text-anchor="end">
<text x="2014" y="2330">3</text><text x="2014" y="2430">2</text><text x="2014" y="2531">1</text>
</g>
<text class="bi mar" x="2212" y="2663" font-size="28" text-anchor="middle">Outgoing interaction strength</text>
<text class="bi mar" transform="translate(1986,2430) rotate(-90)" font-size="28" text-anchor="middle">Incoming interaction strength</text>
<circle cx="2256" cy="2286" r="12" fill="#e31a1c"/>
<circle cx="2383" cy="2273" r="12" fill="#a6562b"/>
<circle cx="2217" cy="2426" r="9" fill="#2f7ab8"/>
<circle cx="2095" cy="2444" r="8" fill="#3da33a"/>
<circle cx="2194" cy="2450" r="11" fill="#ec9418"/>
<circle cx="2233" cy="2471" r="11" fill="#8e4a9f"/>
<circle cx="2128" cy="2485" r="9" fill="#c2a5d6"/>
<circle cx="2109" cy="2523" r="8" fill="#1d2e72"/>
<circle cx="2039" cy="2550" r="6" fill="#56aee0"/>
<circle cx="2354" cy="2587" r="11" fill="#e882b9"/>
<g class="jl">
<text x="2236" y="2312" fill="#e31a1c">APOE+Macro</text>
<text x="2362" y="2300" fill="#a6562b">NK</text>
<text x="2235" y="2419" fill="#2f7ab8">B</text>
<text x="2074" y="2472" fill="#3da33a">DC</text>
<text x="2174" y="2478" fill="#ec9418">Epithelial</text>
<text x="2279" y="2510" fill="#8e4a9f">Endothelial</text>
<text x="2108" y="2514" fill="#c2a5d6">neutrophil</text>
<text x="2126" y="2548" fill="#1d2e72">T</text>
<text x="2066" y="2579" fill="#56aee0">Plasma</text>
<text x="2334" y="2577" fill="#e882b9">Fibroblast</text>
</g>

<text class="bi mar" x="2213" y="2736" font-size="32" text-anchor="middle">CMS_high</text>
<rect x="2024" y="2761" width="377" height="343" fill="none" stroke="#000" stroke-width="4"/>
<g font-size="18" fill="#444" text-anchor="middle">
<text x="2117" y="3128">4</text><text x="2218" y="3128">6</text><text x="2321" y="3128">8</text>
</g>
<g font-size="18" fill="#444" text-anchor="end">
<text x="2014" y="2851">7.5</text><text x="2014" y="2949">5.0</text><text x="2014" y="3045">2.5</text>
</g>
<text class="bi mar" x="2212" y="3163" font-size="28" text-anchor="middle">Outgoing interaction strength</text>
<text class="bi mar" transform="translate(1972,2932) rotate(-90)" font-size="28" text-anchor="middle">Incoming interaction strength</text>
<circle cx="2178" cy="2781" r="15" fill="#3da33a"/>
<circle cx="2267" cy="2774" r="16" fill="#e31a1c"/>
<circle cx="2106" cy="2882" r="14" fill="#a6562b"/>
<circle cx="2092" cy="2962" r="14" fill="#c2a5d6"/>
<circle cx="2055" cy="2983" r="12" fill="#2f7ab8"/>
<circle cx="2143" cy="2978" r="16" fill="#ec9418"/>
<circle cx="2176" cy="2982" r="16" fill="#8e4a9f"/>
<circle cx="2041" cy="3061" r="10" fill="#1d2e72"/>
<circle cx="2055" cy="3089" r="11" fill="#56aee0"/>
<circle cx="2384" cy="3063" r="16" fill="#e882b9"/>
<g class="jl">
<text x="2157" y="2807" fill="#3da33a">DC</text>
<text x="2288" y="2802" fill="#e31a1c">APOE+Macro</text>
<text x="2127" y="2872" fill="#a6562b">NK</text>
<text x="2079" y="2953" fill="#c2a5d6">neutrophil</text>
<text x="2039" y="3007" fill="#2f7ab8">B</text>
<text x="2110" y="3006" fill="#ec9418">Epithelial</text>
<text x="2222" y="3009" fill="#8e4a9f">Endothelial</text>
<text x="2039" y="3050" fill="#1d2e72">T</text>
<text x="2097" y="3079" fill="#56aee0">Plasma</text>
<text x="2324" y="3071" fill="#e882b9">Fibroblas</text>
</g>
<text x="2345" y="2829" font-size="18" fill="#111" text-anchor="middle">Count</text>
<circle cx="2338" cy="2848" r="5" fill="#000"/>
<circle cx="2338" cy="2866" r="6.5" fill="#000"/>
<circle cx="2338" cy="2887" r="8" fill="#000"/>
<circle cx="2338" cy="2910" r="9" fill="#000"/>
<circle cx="2338" cy="2935" r="10" fill="#000"/>
<circle cx="2338" cy="2962" r="11" fill="#000"/>
<g class="bi" font-size="13" fill="#111">
<text x="2360" y="2853">100</text><text x="2360" y="2871">200</text><text x="2360" y="2892">300</text>
<text x="2360" y="2915">400</text><text x="2360" y="2940">500</text><text x="2360" y="2967">600</text>
</g>
</svg>
<script>
(function(){
var NS='http://www.w3.org/2000/svg';
function el(p,tag,a){var e=document.createElementNS(NS,tag);for(var k in a)e.setAttribute(k,a[k]);p.appendChild(e);return e;}
var s=987654321;function rnd(){s^=s<<13;s^=s>>>17;s^=s<<5;return ((s>>>0)%1000000)/1000000;}

/* ---------- Panel A ---------- */
var gA=document.getElementById('gA');
var boxes=[[138,4,'Epithelial'],[323,2],[440,3],[591,2],[704,4],[891,4],[1077,3],[1228,4],[1413,4]];
var W={4:151,3:112,2:80};
var colX=[];
boxes.forEach(function(b){
  var w=W[b[1]];
  el(gA,'rect',{x:b[0],y:29,width:w,height:33,fill:'#2b3a5e'});
  el(gA,'rect',{x:b[0]+2,y:63,width:w-4,height:532,fill:'#f5f1e8',stroke:'#000','stroke-width':4});
  var xs=[];for(var k=0;k<b[1];k++){xs.push(b[0]+21+36*k);colX.push(b[0]+21+36*k);}
  for(var r=0;r<16;r++){var y=579-r*33.1;
    el(gA,'line',{x1:b[0]+5,x2:b[0]+w-5,y1:y,y2:y,stroke:'#cfcfcf','stroke-width':2,'stroke-dasharray':'10 6 2 6'});
    el(gA,'line',{x1:b[0]-5,x2:b[0],y1:y,y2:y,stroke:'#000','stroke-width':2});}
  xs.forEach(function(x){
    el(gA,'line',{x1:x,x2:x,y1:66,y2:592,stroke:'#cfcfcf','stroke-width':2,'stroke-dasharray':'10 6 2 6'});
    el(gA,'line',{x1:x,x2:x,y1:597,y2:604,stroke:'#000','stroke-width':2});});
});
var C={M:'#8e1540',R:'#d23c4c',O:'#e2623e',o:'#f0954f',y:'#f6c66a',p:'#f7e29a',L:'#f4a55a'};
var D={
0:{15:[13,'R'],14:[6,'o'],13:[13,'L'],12:[15,'R'],9:[8,'o'],4:[9,'O'],1:[4,'o'],0:[14,'R']},
1:{15:[13,'M'],14:[6,'o'],13:[16,'O'],12:[12,'O'],9:[8,'o'],4:[8,'o'],0:[15,'R']},
2:{15:[16,'M'],14:[7,'y'],13:[19,'O'],12:[16,'R'],9:[9,'o'],4:[8,'y'],2:[6,'y'],1:[5,'o'],0:[15,'O']},
3:{15:[15,'R'],14:[7,'y'],13:[17,'o'],12:[17,'M'],11:[8,'y'],9:[9,'y'],4:[11,'O'],0:[15,'o']},
4:{13:[8,'y'],12:[6,'y'],9:[12,'M'],8:[6,'o'],7:[8,'O'],6:[9,'o'],4:[5,'y'],3:[5,'y'],2:[13,'O'],0:[5,'y']},
5:{9:[7,'M']},
6:{14:[7,'M']},7:{14:[12,'M']},8:{14:[10,'M'],0:[5,'o']},
9:{8:[6,'M']},
10:{15:[6,'y'],12:[8,'y'],11:[9,'O'],9:[8,'o'],8:[11,'M'],6:[8,'o'],5:[5,'y'],4:[5,'y'],3:[5,'y'],2:[9,'o'],0:[7,'y']},
11:{15:[13,'y'],14:[12,'y'],13:[15,'p'],12:[13,'L'],11:[11,'y'],10:[11,'p'],9:[12,'o'],8:[12,'o'],7:[13,'O'],6:[15,'o'],5:[8,'p'],4:[14,'o'],3:[11,'p'],2:[16,'M'],1:[11,'y'],0:[12,'y']},
12:{6:[10,'M'],5:[4,'o']},
13:{15:[4,'y'],12:[4,'y'],9:[5,'o'],8:[4,'o'],6:[6,'o'],4:[6,'O'],2:[11,'M']},
14:{15:[4,'y'],9:[5,'o'],7:[5,'O'],6:[6,'R'],2:[6,'R']},
15:{11:[12,'M'],9:[4,'o']},16:{11:[11,'M']},17:{11:[14,'M']},18:{11:[13,'M']},
19:{5:[13,'M'],8:[4,'O']},20:{5:[14,'M'],8:[7,'O']},21:{5:[6,'M'],8:[4,'O']},
22:{10:[6,'O'],3:[14,'M']},23:{10:[6,'R'],3:[9,'M']},24:{10:[8,'M'],3:[7,'R'],1:[5,'O']},25:{10:[3,'R'],3:[4,'M'],7:[3,'R']},
26:{10:[10,'M'],3:[11,'M'],1:[7,'O']},27:{10:[12,'M'],3:[10,'M'],1:[8,'O']},28:{6:[9,'M'],2:[9,'M'],1:[5,'O'],10:[4,'o'],3:[4,'o']},29:{10:[5,'O'],3:[8,'M']}
};
colX.forEach(function(x,ci){
  for(var r=0;r<16;r++){var y=579-r*33.1;var d=(D[ci]||{})[r];
    if(d)el(gA,'circle',{cx:x,cy:y,r:d[0],fill:C[d[1]]});
    else el(gA,'circle',{cx:x,cy:y,r:2.6,fill:'#f3c36a'});}
});

/* ---------- Panel B legend ---------- */
var pal=['#1f77b4','#ff7f0e','#2ca02c','#d62728','#9467bd','#8c564b','#e377c2','#7f7f7f','#bcbd22','#17becf','#aec7e8','#ffbb78','#98df8a','#ff9896','#c5b0d5','#c49c94'];
var gB=document.getElementById('gBleg');
for(var i=0;i<16;i++)el(gB,'ellipse',{cx:2255,cy:136+26*i,rx:10,ry:12,fill:pal[i]});

/* ---------- Scatter (canvas) ---------- */
var cv=document.getElementById('cv'),ctx=cv.getContext('2d');
function blob(cx,cy,rx,ry,col,rot,dens,colfn){
  rot=(rot||0)*Math.PI/180;var n=Math.round(Math.PI*rx*ry*(dens||0.55));
  var p1=rnd()*6,p2=rnd()*6,c=Math.cos(rot),sn=Math.sin(rot);
  for(var i=0;i<n;i++){var t=rnd()*6.2832,u=Math.sqrt(rnd())*1.1;
    var lim=1+0.1*Math.sin(3*t+p1)+0.07*Math.sin(5*t+p2);if(u>lim)continue;
    var dx=u*Math.cos(t)*rx,dy=u*Math.sin(t)*ry;
    var x=cx+dx*c-dy*sn,y=cy+dx*sn+dy*c;
    ctx.fillStyle=colfn?colfn(x,y):col;ctx.fillRect(x-1.2,y-1.2,2.6,2.6);}
}
// Panel B
var B=[[1795,367,112,100,0,0],[1975,130,55,75,1,15],[1950,250,55,110,1,5],[1930,380,45,60,1,0],
[1866,200,62,75,3,0],[2097,303,95,125,2,0],[1720,230,50,60,4,0],[1871,91,22,14,4,0],
[1856,510,84,38,5,0],[2010,406,48,47,6,0],[2033,454,22,20,7,0],[2017,500,44,34,7,20],
[1954,451,33,30,8,0],[2063,491,12,8,8,0],[2149,413,20,14,9,0],[2095,478,8,28,9,15],
[1814,121,14,50,10,25],[1762,131,14,30,11,30],[1859,289,30,20,12,20],[1761,452,33,22,13,0],
[1954,535,9,32,14,35],[1764,175,16,7,15,0]];
B.forEach(function(b){blob(b[0],b[1],b[2],b[3],pal[b[4]],b[5],0.7);});
// Panel C
var Cb=[[245,944,85,85,'#1f77b4',0],[287,1143,120,112,'#1f77b4',0],[230,850,50,15,'#1f77b4',0],
[445,1030,70,200,'#e377c2',5],[470,880,60,60,'#e377c2',0],[361,964,60,70,'#9467bd',0],
[602,1074,95,120,'#ff7f0e',0],[513,1189,45,45,'#2ca02c',0],[365,1296,100,40,'#7f7f7f',0],
[443,1240,18,28,'#bcbd22',0],[527,1265,40,30,'#17becf',0],[457,1346,10,25,'#d62728',30],
[654,1204,12,14,'#8c564b',0],[610,1255,6,20,'#8c564b',0]];
Cb.forEach(function(b){blob(b[0],b[1],b[2],b[3],b[4],b[5],0.6);});
// Panel D
var stops=[[0,[94,79,162]],[0.15,[50,136,189]],[0.3,[102,194,165]],[0.42,[171,221,164]],[0.52,[230,245,152]],[0.62,[254,224,139]],[0.72,[253,174,97]],[0.82,[244,109,67]],[0.91,[213,62,79]],[1,[158,1,66]]];
function cmap(v){v=Math.max(0,Math.min(1,v));for(var i=1;i<stops.length;i++){if(v<=stops[i][0]){var a=stops[i-1],b=stops[i],f=(v-a[0])/(b[0]-a[0]);
 return 'rgb('+Math.round(a[1][0]+f*(b[1][0]-a[1][0]))+','+Math.round(a[1][1]+f*(b[1][1]-a[1][1]))+','+Math.round(a[1][2]+f*(b[1][2]-a[1][2]))+')';}}return 'rgb(158,1,66)';}
function mk(m,sd){return function(){var v=m+(rnd()+rnd()+rnd()-1.5)*sd;if(rnd()<0.06)v=0.95;return cmap(v);};}
var Db=[[1185,1050,60,90,0.42],[1320,930,95,110,0.5],[1260,1120,110,100,0.48],[1400,1060,60,140,0.25],
[1560,1020,80,90,0.9],[1500,1160,70,60,0.95],[1290,1265,75,50,0.48],[1460,1260,40,40,0.32],
[1390,860,50,40,0.6],[1200,920,30,40,0.4],[1205,1080,40,30,0.9],[1270,1195,40,25,0.9],[1450,950,45,60,0.35],[1570,900,40,40,0.55]];
Db.forEach(function(b){blob(b[0],b[1],b[2],b[3],null,0,0.6,mk(b[4],0.35));});
/* ---------- Panel E ---------- */
var gE=document.getElementById('gE');
var eh=['#d85418','#ec8c4f','#ec8c4f','#ec8c4f','#ec8c4f','#ec8c4f','#f5b98a','#f5b98a','#f5b98a','#f5b98a'];
var elw=['#f5b98a','#f5b98a','#f5b98a','#f5b98a','#f5b98a','#f5b98a','#ec8c4f','#ec8c4f','#ec8c4f','#ec8c4f'];
for(var r=0;r<10;r++){el(gE,'rect',{x:1927,y:809+50.8*r,width:102,height:51,fill:eh[r]});el(gE,'rect',{x:2029,y:809+50.8*r,width:104,height:51,fill:elw[r]});}
el(gE,'rect',{x:1927,y:1317,width:102,height:57,fill:'#b52626'});el(gE,'rect',{x:2029,y:1317,width:104,height:57,fill:'#23355a'});
/* ---------- Heatmaps F,G ---------- */
var dk='#6a0e1a';
var F=[
[dk,'#f4c7b0','#e4957a','#2b6fad','#3a84bf','#3a84bf','#2566a7','#ececec','#a9cde3','#4f94c7'],
['#f4c7b0',dk,'#f2b79e','#4f94c7','#e1ecf3','#cfe2ee','#3a84bf','#c7ddec','#9ec6e0','#134f8f'],
['#e4957a','#f2b79e',dk,'#5a9ccc','#b5d4e8','#c6ddeb','#3a84bf','#efeae8','#6aa6d2','#2566a7'],
['#2566a7','#5b9ccb','#5a9ccc',dk,'#efaa8a','#8ab9da','#a9cde3','#7fb3d7','#85b6d8','#c5dcec'],
['#3a84bf','#dde9f2','#b5d4e8','#efaa8a',dk,'#f5cdb8','#8ab9da','#c7ddec','#8ab9da','#c5dcec'],
['#3a84bf','#cfe2ee','#c6ddeb','#8ab9da','#f5cdb8',dk,'#d9705a','#c7ddec','#e3edf3','#f1efed'],
['#2566a7','#3a84bf','#3a84bf','#a9cde3','#8ab9da','#d9705a',dk,'#cbe0ed','#f7d9c8','#e58d70'],
['#ececec','#c7ddec','#efeae8','#7fb3d7','#c7ddec','#c7ddec','#cbe0ed',dk,'#f0a888','#f7d9c8'],
['#a9cde3','#9ec6e0','#6aa6d2','#85b6d8','#8ab9da','#e3edf3','#f7d9c8','#f0a888',dk,'#d9705a'],
['#4f94c7','#134f8f','#2566a7','#c5dcec','#c5dcec','#f1efed','#e58d70','#f7d9c8','#d9705a',dk]];
var G=[
[dk,'#7a141e','#a9cde3','#f7d7c9','#7fb3d3','#2166a8','#4a90c0','#6aa6cd','#3a80b9','#8dbcd7'],
['#7a141e',dk,'#8dbcd7','#f1ebe7','#65a2cb','#1f5e9e','#a8cce2','#a8cce2','#65a2cb','#a9cde3'],
['#b3d4e5','#8dbcd7',dk,'#d6735a','#a8cce2','#2a74b2','#65a2cb','#f1b49a','#e5eef3','#c7ddea'],
['#f7d8cb','#f1ebe7','#d6735a',dk,'#c7ddea','#2a74b2','#0e4a86','#d2e4ee','#9dc5de','#e5eef3'],
['#7fb3d3','#5d9ec8','#a8cce2','#c7ddea',dk,'#f0b298','#a8cce2','#e6eef3','#8dbcd7','#e6edf1'],
['#2166a8','#1f5e9e','#2a74b2','#2a74b2','#f0b298',dk,'#efeceb','#5d9ec8','#f4e6e0','#e6edf1'],
['#4a90c0','#8dbcd7','#5d9ec8','#0e4a86','#a8cce2','#efeceb',dk,'#f4c3ab','#f4e6e0','#d9e7f0'],
['#5d9ec8','#8dbcd7','#f4b9a0','#d2e4ee','#e6eef3','#5d9ec8','#f4c3ab',dk,'#f4c3ab','#e0957a'],
['#3a80b9','#5d9ec8','#e5eef3','#9dc5de','#8dbcd7','#f4e6e0','#f4e6e0','#f4c3ab',dk,'#f0b298'],
['#8dbcd7','#a9cde3','#d2e4ee','#e6eef3','#e6eef3','#e6eef3','#d9e7f0','#e0957a','#f0b298',dk]];
function hm(id,M,x0,y0,w,h){var g=document.getElementById(id);
 for(var r=0;r<10;r++)for(var c=0;c<10;c++)el(g,'rect',{x:x0+c*w,y:y0+r*h,width:w,height:h,fill:M[r][c],stroke:'#fff','stroke-width':2});}
hm('gF',F,99,1541,51.5,47.3);
hm('gG',G,964,1546,51.5,47.4);
/* ---------- Panel I ---------- */
var gI=document.getElementById('gI');
var bf=[];for(var i=0;i<70;i++)bf.push(0);
var tail=[0.03,0.04,0.06,0.08,0.08,0.09,0.10,0.11,0.12,0.12,0.13,0.14,0.15,0.15,0.16,0.16,0.17,0.17,0.18,0.18,0.2,0.23,0.27,0.28,0.29,0.3,0.32,0.33,0.35,0.37,0.38,0.41,0.43,0.46,0.55,0.7,1.0];
for(var i=0;i<tail.length;i++)bf[33+i]=tail[i];
var RB={0:[29.5,0],1:[2.2,0],2:[2,0],3:[0.8,0],33:[1.2,0.2],34:[0.5,0.1],35:[0.3,0.1],36:[0.2,0.1],37:[0.5,0.3],38:[0.8,0.3],39:[25.2,0.7],40:[1,0.3],41:[2.5,0.4],42:[0.4,0.2],43:[0.5,0.2],44:[23,0.7],45:[0.5,0.3],46:[20.2,0.7],47:[1.1,0.3],48:[0.5,0.3],49:[0.4,0.2],50:[1.4,0.3],51:[1,0.3],52:[15.3,0.7],53:[29,22.6],54:[24.8,1.7],55:[0.8,0.4],56:[0.8,0.4],57:[0.8,0.4],58:[29.5,26],59:[30.3,27.3],60:[1.5,0.8],61:[0.8,0.6],62:[26.5,23.5],63:[27.7,24.3],64:[28.6,25.6],65:[0.7,0.6],66:[28.2,26.9],67:[0.2,0.2],68:[22.2,23.9],69:[0,0.5]};
// gridlines top
[2387,2538].forEach(function(y){el(gI,'line',{x1:115,x2:1910,y1:y,y2:y,stroke:'#d4d4d4','stroke-width':4,'stroke-dasharray':'22 8'});});
[2906,3007,3107].forEach(function(y){el(gI,'line',{x1:115,x2:1908,y1:y,y2:y,stroke:'#d4d4d4','stroke-width':5,'stroke-dasharray':'22 8 4 8'});});
for(var i=0;i<70;i++){var cx=131+25.55*i;
 el(gI,'line',{x1:cx,x2:cx,y1:2303,y2:2625,stroke:'#d4d4d4','stroke-width':3,'stroke-dasharray':'14 10'});
 el(gI,'line',{x1:cx,x2:cx,y1:2796,y2:3123,stroke:'#d4d4d4','stroke-width':4,'stroke-dasharray':'18 12'});
 el(gI,'line',{x1:cx,x2:cx,y1:2294,y2:2301,stroke:'#000','stroke-width':2});
 el(gI,'line',{x1:cx,x2:cx,y1:2787,y2:2794,stroke:'#000','stroke-width':2});
 var f=bf[i];
 if(f>0)el(gI,'rect',{x:cx-10,y:2311,width:20,height:303*f,fill:'#3b5a94'});
 if(f<1)el(gI,'rect',{x:cx-10,y:2311+303*f,width:20,height:303*(1-f),fill:'#b22323'});
 var v=RB[i]||[0.35,0.1];
 if(v[0]>0)el(gI,'rect',{x:cx-9,y:2806,width:9,height:Math.max(2,v[0]*10.03),fill:'#b22323'});
 if(v[1]>0)el(gI,'rect',{x:cx,y:2806,width:9,height:Math.max(2,v[1]*10.03),fill:'#3b5a94'});
}
el(gI,'line',{x1:115,x2:1910,y1:2463,y2:2463,stroke:'#8a8a8a','stroke-width':6,'stroke-dasharray':'22 14'});
})();
</script>
</body></html>
